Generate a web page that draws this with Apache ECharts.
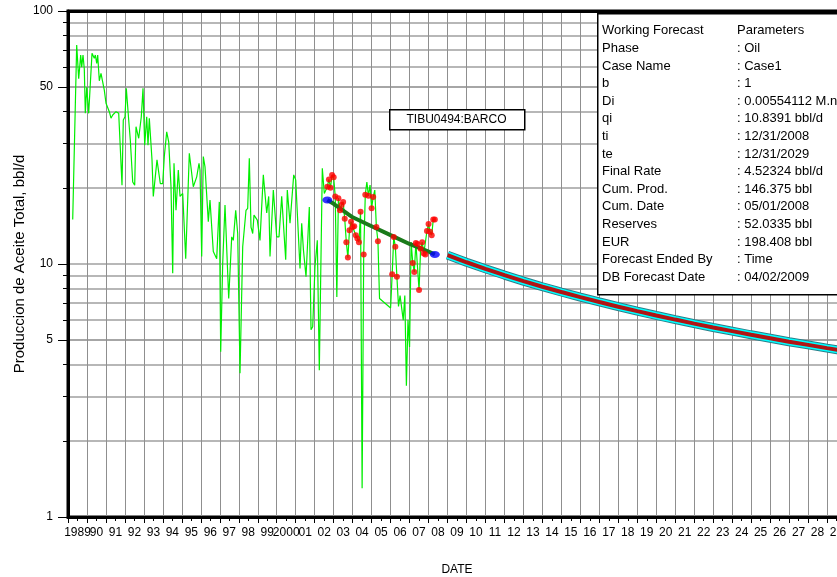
<!DOCTYPE html>
<html><head><meta charset="utf-8">
<script src="https://cdn.jsdelivr.net/npm/echarts@6/dist/echarts.min.js"></script>
<style>html,body{margin:0;padding:0;background:#fff;overflow:hidden;width:837px;height:577px}#c{width:870px;height:577px}</style>
</head><body><div id="c"></div>
<script>
// ---------- data ----------
const yearLabels = ['1989','90','91','92','93','94','95','96','97','98','99','2000','01','02','03','04','05','06','07','08','09','10','11','12','13','14','15','16','17','18','19','20','21','22','23','24','25','26','27','28','29'];
const yTickValues = [1, 5, 10, 50, 100];

// monthly oil rate history (decimal year, bbl/d)
const histYears = [
 1989.248,1989.458,1989.564,1989.669,1989.722,1989.791,1989.859,1989.912,1989.986,1990.091,
 1990.265,1990.386,1990.439,1990.513,1990.565,1990.650,1990.739,1990.829,1990.913,1991.003,
 1991.092,1991.177,1991.266,1991.356,1991.530,1991.672,1991.846,1991.914,1992.004,1992.072,
 1992.199,1992.283,1992.410,1992.515,1992.584,1992.726,1992.863,1992.953,1993.042,1993.148,
 1993.216,1993.285,1993.427,1993.495,1993.690,1993.864,1993.991,1994.075,1994.202,1994.307,
 1994.428,1994.518,1994.586,1994.692,1994.813,1994.903,1995.045,1995.203,1995.393,1995.603,
 1995.783,1995.904,1995.957,1996.046,1996.130,1996.220,1996.394,1996.483,1996.657,1996.837,
 1996.974,1997.047,1997.153,1997.274,1997.469,1997.627,1997.711,1997.838,1997.943,1998.065,
 1998.207,1998.381,1998.470,1998.555,1998.644,1998.734,1998.802,1998.976,1999.119,1999.293,
 1999.472,1999.577,1999.646,1999.820,1999.999,2000.120,2000.262,2000.473,2000.557,2000.700,
 2000.895,2001.000,2001.227,2001.316,2001.406,2001.543,2001.717,2001.806,2001.896,2002.017,
 2002.138,2002.244,2002.402,2002.508,
 2002.667,2002.750,2002.833,2002.917,2003.000,2003.083,2003.167,2003.250,2003.333,2003.417,
 2003.500,2003.583,2003.667,2003.750,2003.833,2003.917,2004.000,2004.083,2004.167,2004.250,
 2004.333,2004.417,2004.500,2004.583,2004.667,2004.750,2004.833,2004.917,2005.000,2005.083,
 2005.167,2005.250,2005.333,2005.417,2006.000,2006.083,2006.167,2006.250,2006.333,2006.417,
 2006.500,2006.583,2006.667,2006.750,2006.833,2006.917,2007.000,2007.083,2007.167,2007.250,
 2007.333,2007.417,2007.500,2007.583,2007.667,2007.750,2007.833,2007.917,2008.000,2008.083,
 2008.167,2008.250,2008.333
];
const histRates = [
 15.0,73.4,54,67,60,67,59,39.4,50,39.4,
 68,65,67,62,67,53,56.7,56.7,48.7,43.2,
 43.8,40,37.7,38.8,40,39.4,20.5,37.1,38.2,49.5,
 37.1,30.9,21.1,20.5,34.9,31.4,38.2,49.5,29.5,38.2,
 29.5,37.7,25.8,18.5,25.8,20.8,20.8,26.6,33.3,30.4,
 20.2,9.2,25.0,16.3,23.5,18.5,19.0,10.5,27.4,20.2,
 22.1,25,23.5,10.7,26.6,24.2,14.7,17.9,11.2,10.5,
 17.6,4.5,10.1,17.1,7.3,12.8,12.4,16.3,13.2,3.7,
 11.7,16.3,16.6,26.2,14.0,13.2,15.6,14.9,12.4,22.5,
 15.9,18.5,10.7,19.6,12.8,12.8,18.5,10.4,19.6,14.5,
 22.5,21.5,9.6,14.5,11.4,8.9,16.8,5.5,5.65,9.8,
 12.4,3.8,23.9,19.0,
 20.2,21.6,20.0,22.5,22.0,18.5,7.4,18.2,16.3,17.1,
 17.6,15.1,12.2,10.6,13.6,14.7,14.0,14.1,13.0,12.6,
 12.2,16.1,1.3,10.9,18.8,21.1,18.6,20.5,16.6,18.4,
 19.6,14.0,12.3,7.3,6.7,9.1,12.8,11.7,8.9,6.8,
 7.5,7.5,6.0,7.5,3.3,6.0,4.7,12.2,10.1,9.3,
 12.1,12.0,7.9,11.5,12.2,11.0,10.9,13.5,14.4,13.4,
 13.0,15.0,15.0
];
// months shown in the history line but left out of the fit (no red dot)
const excludedYears = [2003.167,2004.500,2004.750,2004.917,2005.167,2005.417,2006.000,
 2006.417,2006.500,2006.583,2006.667,2006.750,2006.833,2006.917,2007.000,2007.083];
const fitStart = 2002.667, fitEnd = 2008.333;

// fitted decline through the selected points
const fitYears = [2002.667,2003.0,2004.0,2005.0,2006.0,2007.0,2008.0,2008.333];
const fitRates = [17.9,17.3,15.3,14.1,13.0,12.0,11.2,10.9];
const fitEndYears = [2002.667, 2008.333];
const fitEndRates = [17.9, 10.9];

// forecast (yearly readings of the curve)
const forecastYears = [2009,2010,2011,2012,2013,2014,2015,2016,2017,2018,2019,2020,2021,2022,2023,2024,2025,2026,2027,2028,2029,2030];
const forecastRates = [10.84,10.16,9.57,9.04,8.56,8.13,7.75,7.40,7.08,6.78,6.51,6.26,6.03,5.81,5.61,5.43,5.25,5.09,4.93,4.79,4.65,4.52];

const wellName = 'TIBU0494:BARCO';
const paramLabels = ['Working Forecast','Phase','Case Name','b','Di','qi','ti','te','Final Rate','Cum. Prod.','Cum. Date','Reserves','EUR','Forecast Ended By','DB Forecast Date'];
const paramValues = ['Parameters',': Oil',': Case1',': 1',': 0.00554112 M.n.',': 10.8391 bbl/d',': 12/31/2008',': 12/31/2029',': 4.52324 bbl/d',': 146.375 bbl',': 05/01/2008',': 52.0335 bbl',': 198.408 bbl',': Time',': 04/02/2009'];

// ---------- chart ----------
const FONT = 'Liberation Sans, Arial, sans-serif';
const histData = histYears.map((y, i) => [y, histRates[i]]);
const exSet = new Set(excludedYears.map(v => v.toFixed(3)));
const redData = histData.filter(p => p[0] >= fitStart - 1e-6 && p[0] <= fitEnd + 1e-6 && !exSet.has(p[0].toFixed(3)));
const fitData = fitYears.map((y, i) => [y, fitRates[i]]);
const blueData = fitEndYears.map((y, i) => [y, fitEndRates[i]]);
const fcData = forecastYears.map((y, i) => [y, forecastRates[i]]);

const graphics = [];
graphics.push({type:'rect', left:389, top:109, shape:{width:135, height:20}, style:{fill:'#fff', stroke:'#000', lineWidth:1.5}, z:100});
graphics.push({type:'text', x:456.5, y:119.5, style:{text:wellName, font:'12px '+FONT, fill:'#000', align:'center', verticalAlign:'middle'}, z:101});
graphics.push({type:'rect', left:597, top:13, shape:{width:270, height:281}, style:{fill:'#fff', stroke:'#000', lineWidth:1.5}, z:100});
paramLabels.forEach((t, i) => {
  const y = 30.7 + i * 17.62;
  graphics.push({type:'text', x:602, y:y, style:{text:t, font:'13px '+FONT, fill:'#000', verticalAlign:'middle'}, z:101});
  graphics.push({type:'text', x:737, y:y, style:{text:paramValues[i], font:'13px '+FONT, fill:'#000', verticalAlign:'middle'}, z:101});
});

const chart = echarts.init(document.getElementById('c'), null, {renderer:'canvas'});
chart.setOption({
  animation: false,
  backgroundColor: '#fff',
  grid: {left:68, top:11, width:778, height:506, show:true, borderColor:'#000', borderWidth:3, backgroundColor:'transparent', containLabel:false, outerBoundsMode:'none'},
  xAxis: [{
    type:'value', min:1989, max:2030, interval:1,
    name:'DATE', nameLocation:'middle', nameGap:47, nameMoveOverlap:false,
    nameTextStyle:{fontFamily:FONT, fontSize:12, color:'#000'},
    axisLine:{show:true, lineStyle:{color:'#000', width:3}},
    axisTick:{show:true, length:6, lineStyle:{color:'#000', width:1}},
    minorTick:{show:true, splitNumber:2, length:4, lineStyle:{color:'#000'}},
    axisLabel:{show:false},
    splitLine:{show:true, lineStyle:{color:'#8f8f8f', width:1}}
  },{
    type:'category', data:yearLabels, boundaryGap:true, position:'bottom',
    axisLine:{show:false}, axisTick:{show:false}, splitLine:{show:false},
    axisLabel:{interval:0, margin:10, fontFamily:FONT, fontSize:12, color:'#000'}
  },{
    type:'value', min:1989, max:2030, position:'top',
    axisLine:{show:true, lineStyle:{color:'#000', width:3}},
    axisTick:{show:false}, axisLabel:{show:false}, splitLine:{show:false}
  }],
  yAxis: {
    type:'log', logBase:10, min:1, max:100,
    name:'Produccion de Aceite Total, bbl/d', nameLocation:'middle', nameGap:41, nameRotate:90, nameMoveOverlap:false,
    nameTextStyle:{fontFamily:FONT, fontSize:15, color:'#000'},
    axisLine:{show:true, lineStyle:{color:'#000', width:3}},
    axisTick:{show:true, length:10, customValues:yTickValues, lineStyle:{color:'#000'}},
    minorTick:{show:true, splitNumber:9, length:5, lineStyle:{color:'#000'}},
    axisLabel:{customValues:yTickValues, margin:15, fontFamily:FONT, fontSize:12, color:'#000'},
    splitLine:{show:true, lineStyle:{color:'#a0a0a0', width:1.5}},
    minorSplitLine:{show:true, lineStyle:{color:'#a0a0a0', width:1.5}}
  },
  graphic: graphics,
  series: [
    {type:'line', name:'history', data:histData, showSymbol:false, symbol:'none', lineStyle:{color:'#00ee00', width:1.2}, z:2},
    {type:'line', name:'fit', data:fitData, symbol:'none', lineStyle:{color:'#1a7a1a', width:4}, z:3},
    {type:'scatter', name:'selected', data:redData, symbol:'circle', symbolSize:6, itemStyle:{color:'#ff0000'}, z:4},
    {type:'scatter', name:'ends', data:blueData, symbol:'circle', symbolSize:[10,7], itemStyle:{color:'#0000ff'}, z:5},
    {type:'line', name:'fcHalo', data:fcData, symbol:'none', lineStyle:{color:'#2a7f8a', width:9}, z:3},
    {type:'line', name:'fcCyan', data:fcData, symbol:'none', lineStyle:{color:'#00ffff', width:7}, z:4},
    {type:'line', name:'forecast', data:fcData, symbol:'none', lineStyle:{color:'#b01515', width:4}, z:5}
  ]
});
</script></body></html>
